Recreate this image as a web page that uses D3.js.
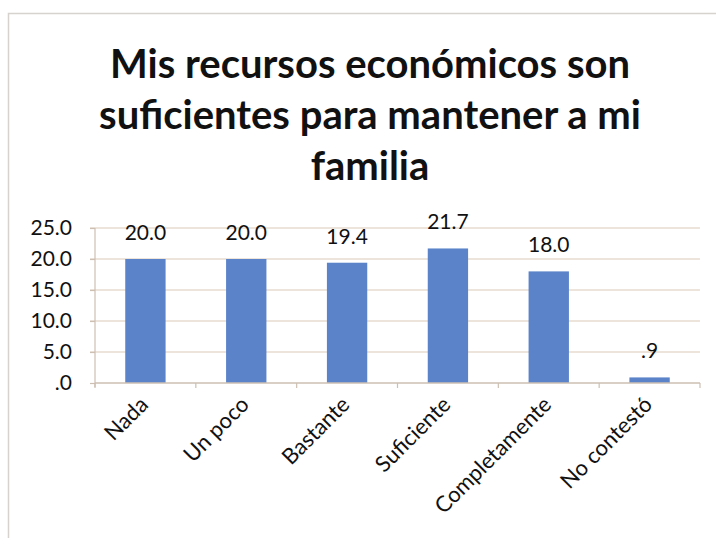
<!DOCTYPE html>
<html>
<head>
<meta charset="utf-8">
<script src="https://cdn.jsdelivr.net/npm/d3@7"></script>
<style>
  html, body { margin: 0; padding: 0; background: #fff; }
  svg { display: block; }
  text { font-family: Lato, "Open Sans", sans-serif; fill: #111; }
</style>
</head>
<body>
<svg id="chart" width="720" height="538"></svg>
<script>
const titleLines = ["Mis recursos económicos son", "suficientes para mantener a mi", "familia"];
const categories = ["Nada", "Un poco", "Bastante", "Suficiente", "Completamente", "No contestó"];
const values = [20.0, 20.0, 19.4, 21.7, 18.0, 0.9];
const yTicks = [0, 5, 10, 15, 20, 25];

const svg = d3.select("#chart");
const W = 720, H = 538;
const plot = { left: 95, right: 700, top: 228, bottom: 383 };

svg.append("rect").attr("width", W).attr("height", H).attr("fill", "#fff");

// outer frame (top and left edges visible)
svg.append("path")
  .attr("d", `M8.5,540 L8.5,13.5 L716,13.5`)
  .attr("fill", "none").attr("stroke", "#d6d2ce").attr("stroke-width", 1.5);

// title
const tg = svg.append("g");
titleLines.forEach((t, i) => {
  tg.append("text")
    .attr("x", 370).attr("y", 78 + i * 51)
    .attr("text-anchor", "middle")
    .attr("font-size", 40).attr("font-weight", 700)
    .text(t);
});

const fmt = v => d3.format(".1f")(v).replace(/^0\./, ".");

const x = d3.scaleBand().domain(categories).range([plot.left, plot.right])
  .paddingInner(0.6).paddingOuter(0.3);
const y = d3.scaleLinear().domain([0, 25]).range([plot.bottom, plot.top]);

// gridlines
svg.append("g").selectAll("line").data(yTicks.filter(d => d > 0)).join("line")
  .attr("x1", plot.left - 5).attr("x2", plot.right)
  .attr("y1", d => y(d)).attr("y2", d => y(d))
  .attr("stroke", "#dcc9b8").attr("stroke-width", 1.2);

// y axis
const yAxis = svg.append("g").attr("transform", `translate(${plot.left},0)`)
  .call(d3.axisLeft(y).tickValues(yTicks).tickFormat(fmt).tickSize(5).tickSizeOuter(0).tickPadding(18));
yAxis.select(".domain").attr("stroke", "#cdbfb2").attr("stroke-width", 1.2)
  .attr("d", `M0,${plot.top}V${plot.bottom + 4}`);
yAxis.selectAll(".tick line").attr("stroke", "#cdbfb2").attr("stroke-width", 1.2);
yAxis.selectAll(".tick text").attr("font-size", 21).attr("fill", "#111")
  .attr("font-family", "Lato, 'Open Sans', sans-serif");

// bars
svg.append("g").selectAll("rect").data(values).join("rect")
  .attr("x", (d, i) => x(categories[i]))
  .attr("width", x.bandwidth())
  .attr("y", d => y(d))
  .attr("height", d => y(0) - y(d))
  .attr("fill", "#5a83c9");

// x axis line
svg.append("line")
  .attr("x1", plot.left).attr("x2", plot.right)
  .attr("y1", plot.bottom).attr("y2", plot.bottom)
  .attr("stroke", "#cdbfb2").attr("stroke-width", 1.4);

// x tick marks at category boundaries
const step = x.step();
const bounds = d3.range(categories.length + 1).map(i => x(categories[0]) - x.paddingOuter() * step + i * step);
svg.append("g").selectAll("line").data(bounds).join("line")
  .attr("x1", d => d).attr("x2", d => d)
  .attr("y1", plot.bottom).attr("y2", plot.bottom + 5)
  .attr("stroke", "#cdbfb2").attr("stroke-width", 1.2);

// value labels
svg.append("g").selectAll("text").data(values).join("text")
  .attr("x", (d, i) => x(categories[i]) + x.bandwidth() / 2)
  .attr("y", d => y(d) - 19)
  .attr("text-anchor", "middle")
  .attr("font-size", 21)
  .text(d => fmt(d));

// category labels rotated
svg.append("g").selectAll("text").data(categories).join("text")
  .attr("transform", d => `translate(${x(d) + x.bandwidth() / 2 + 4},${plot.bottom + 23}) rotate(-45)`)
  .attr("text-anchor", "end")
  .attr("font-size", 22)
  .text(d => d);
</script>
</body>
</html>
